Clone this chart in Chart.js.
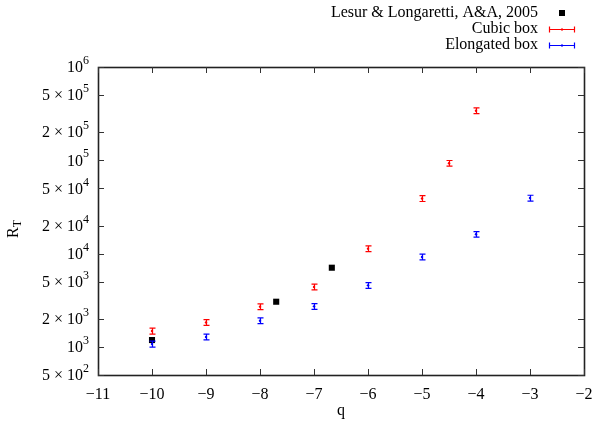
<!DOCTYPE html>
<html>
<head>
<meta charset="utf-8">
<script src="https://cdn.jsdelivr.net/npm/chart.js@4"></script>
<style>
  html, body { margin: 0; padding: 0; background: #fff; }
  #wrap { width: 594px; height: 425px; }
</style>
</head>
<body>
<div id="wrap"><canvas id="rtChart" width="594" height="425"></canvas></div>
<script>
// q values and R_T
const qCubic = [-10, -9, -8, -7, -6, -5, -4.5, -4];
const rtCubic = [1480, 1830, 2700, 4400, 11300, 39000, 93000, 340000];
const errCubic = [110, 130, 190, 320, 800, 2800, 6500, 24000];

const qElong = [-10, -9, -8, -7, -6, -5, -4, -3];
const rtElong = [1075, 1280, 1910, 2720, 4570, 9200, 16100, 39400];
const errElong = [80, 90, 135, 190, 320, 650, 1100, 2800];

const qLesur = [-10, -7.7, -6.67];
const rtLesur = [1185, 3050, 7060];

const yTicks = [500, 1000, 2000, 5000, 1e4, 2e4, 5e4, 1e5, 2e5, 5e5, 1e6];

const FONT = "'Liberation Serif', 'DejaVu Serif', serif";

function pts(xs, ys) {
    return xs.map((x, i) => ({x: x, y: ys[i]}));
}

// y tick label pieces: mantissa and exponent
function tickParts(v) {
    const e = Math.floor(Math.log10(v) + 1e-9);
    const m = Math.round(v / Math.pow(10, e));
    return {m: m, e: e};
}

const errorBars = {
    id: 'errorBars',
    afterDatasetsDraw(chart) {
        const {ctx, scales: {x, y}} = chart;
        chart.data.datasets.forEach(ds => {
            if (!ds.errors) return;
            ctx.save();
            ctx.strokeStyle = ds.borderColor;
            ctx.lineWidth = 1.2;
            ds.data.forEach((p, j) => {
                const px = Math.round(x.getPixelForValue(p.x)) + 0.5;
                const top = y.getPixelForValue(p.y + ds.errors[j]);
                const bot = y.getPixelForValue(p.y - ds.errors[j]);
                ctx.beginPath();
                ctx.moveTo(px, top); ctx.lineTo(px, bot);
                ctx.moveTo(px - 3, top); ctx.lineTo(px + 3, top);
                ctx.moveTo(px - 3, bot); ctx.lineTo(px + 3, bot);
                ctx.stroke();
            });
            ctx.restore();
        });
    }
};

// gnuplot style frame, inward ticks, y labels with exponents, titles, key
const frame = {
    id: 'frame',
    afterDraw(chart) {
        const {ctx, chartArea: a, scales: {x, y}} = chart;
        ctx.save();
        ctx.strokeStyle = '#222';
        ctx.lineWidth = 1.6;
        ctx.strokeRect(a.left + 0.5, a.top + 0.5, a.right - a.left, a.bottom - a.top);
        ctx.lineWidth = 1;
        ctx.strokeStyle = '#333';
        ctx.beginPath();
        x.ticks.forEach(t => {
            const px = Math.round(x.getPixelForValue(t.value)) + 0.5;
            ctx.moveTo(px, a.bottom); ctx.lineTo(px, a.bottom - 6);
            ctx.moveTo(px, a.top); ctx.lineTo(px, a.top + 6);
        });
        yTicks.forEach(v => {
            const py = Math.round(y.getPixelForValue(v)) + 0.5;
            ctx.moveTo(a.left, py); ctx.lineTo(a.left + 6, py);
            ctx.moveTo(a.right, py); ctx.lineTo(a.right - 6, py);
        });
        ctx.stroke();

        // y tick labels
        ctx.fillStyle = '#000';
        ctx.textBaseline = 'middle';
        yTicks.forEach(v => {
            const py = y.getPixelForValue(v);
            const {m, e} = tickParts(v);
            ctx.font = '12px ' + FONT;
            const ew = ctx.measureText(String(e)).width;
            const right = 89;
            ctx.textAlign = 'right';
            ctx.fillText(String(e), right, py - 6);
            ctx.font = '16px ' + FONT;
            const base = (m === 1 ? '' : m + ' \u00d7 ') + '10';
            ctx.fillText(base, right - ew, py + 1);
        });

        // y title R_T
        ctx.save();
        ctx.translate(14, 232);
        ctx.rotate(-Math.PI / 2);
        ctx.textAlign = 'left';
        ctx.font = '16px ' + FONT;
        ctx.fillText('R', -6, 0);
        const rw = ctx.measureText('R').width;
        ctx.font = '12px ' + FONT;
        ctx.fillText('T', -6 + rw, 4);
        ctx.restore();

        // x title
        ctx.font = '16px ' + FONT;
        ctx.textAlign = 'center';
        ctx.fillText('q', (a.left + a.right) / 2, 411);

        // key
        const rows = [
            {label: 'Lesur & Longaretti, A&A, 2005', color: '#000', square: true},
            {label: 'Cubic box', color: '#ff0000'},
            {label: 'Elongated box', color: '#0000ff'}
        ];
        rows.forEach((r, i) => {
            const ry = 13 + i * 16;
            ctx.font = '16px ' + FONT;
            ctx.textAlign = 'right';
            ctx.fillStyle = '#000';
            ctx.fillText(r.label, 538, ry);
            if (r.square) {
                ctx.fillRect(559, ry - 3, 6, 6);
            } else {
                ctx.strokeStyle = r.color;
                ctx.fillStyle = r.color;
                ctx.lineWidth = 1.2;
                ctx.beginPath();
                ctx.moveTo(549, ry + 0.5); ctx.lineTo(575, ry + 0.5);
                ctx.moveTo(549.5, ry - 2.5); ctx.lineTo(549.5, ry + 3.5);
                ctx.moveTo(574.5, ry - 2.5); ctx.lineTo(574.5, ry + 3.5);
                ctx.stroke();
                ctx.fillRect(561, ry - 0.5, 2, 2);
            }
        });
        ctx.restore();
    }
};

new Chart(
    document.getElementById('rtChart'),
    {
        type: 'scatter',
        data: {
            datasets: [
                {
                    label: 'Lesur & Longaretti, A&A, 2005',
                    data: pts(qLesur, rtLesur),
                    pointStyle: 'rect',
                    pointRadius: 4.3,
                    backgroundColor: '#000',
                    borderColor: '#000',
                    borderWidth: 0
                },
                {
                    label: 'Cubic box',
                    data: pts(qCubic, rtCubic),
                    errors: errCubic,
                    pointRadius: 1.2,
                    backgroundColor: '#ff0000',
                    borderColor: '#ff0000',
                    borderWidth: 0
                },
                {
                    label: 'Elongated box',
                    data: pts(qElong, rtElong),
                    errors: errElong,
                    pointRadius: 1.2,
                    backgroundColor: '#0000ff',
                    borderColor: '#0000ff',
                    borderWidth: 0
                }
            ]
        },
        options: {
            responsive: false,
            animation: false,
            layout: {padding: {left: 0, right: 10, top: 67, bottom: 0}},
            plugins: {
                legend: {display: false},
                tooltip: {enabled: false}
            },
            scales: {
                x: {
                    type: 'linear',
                    min: -11,
                    max: -2,
                    grid: {display: false, drawTicks: false},
                    border: {display: false},
                    ticks: {
                        stepSize: 1,
                        padding: 10,
                        color: '#000',
                        font: {family: FONT, size: 16},
                        callback: v => String(v).replace('-', '\u2212')
                    },
                    afterFit: s => { s.height = 50; s.paddingLeft = 0; s.paddingRight = 0; }
                },
                y: {
                    type: 'logarithmic',
                    min: 500,
                    max: 1e6,
                    grid: {display: false, drawTicks: false},
                    border: {display: false},
                    ticks: {display: false},
                    afterBuildTicks: s => { s.ticks = yTicks.map(v => ({value: v})); },
                    afterFit: s => { s.width = 98; s.paddingTop = 0; s.paddingBottom = 0; }
                }
            }
        },
        plugins: [errorBars, frame]
    }
)
</script>
</body>
</html>
